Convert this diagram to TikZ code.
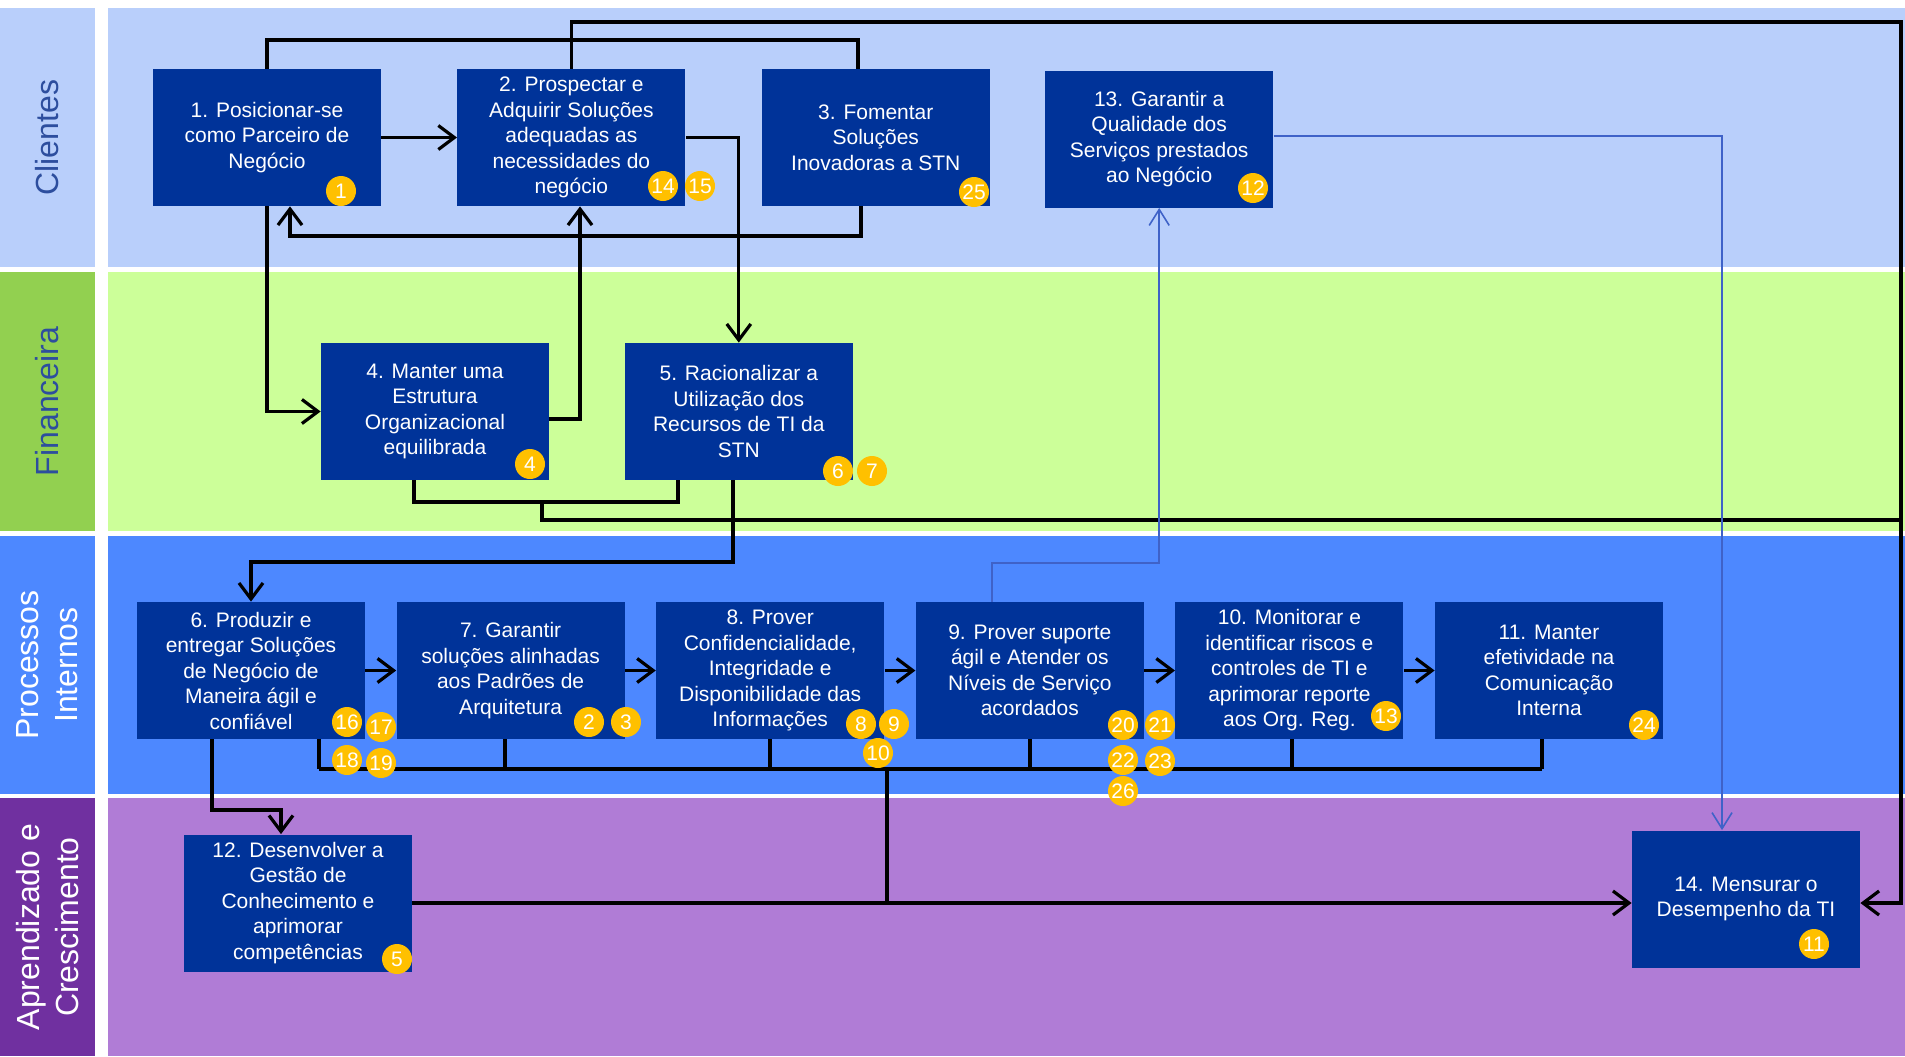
\documentclass[tikz,border=0pt]{standalone}
\usepackage{fontspec}
\setmainfont{Liberation Sans}
\usepackage{tikz}
\usetikzlibrary{positioning,arrows.meta}
\usetikzlibrary{calc}

\definecolor{laneC}{HTML}{B9CFFB}
\definecolor{laneF}{HTML}{CCFF99}
\definecolor{labF}{HTML}{92D050}
\definecolor{laneP}{HTML}{4D88FF}
\definecolor{laneA}{HTML}{B07CD6}
\definecolor{labA}{HTML}{7030A0}
\definecolor{objblue}{HTML}{003399}
\definecolor{gold}{HTML}{FFC000}
\definecolor{labtxt}{HTML}{2D4E9E}
\definecolor{linkblue}{HTML}{3F62C8}

\tikzset{
  obj/.style={fill=objblue, text=white, minimum width=114pt, minimum height=68.5pt,
    inner sep=0pt, align=center, font=\fontsize{10.5}{12.75}\selectfont},
  badge/.style={circle, fill=gold, text=white, minimum size=15pt, inner sep=0pt,
    font=\fontsize{10.5}{10.5}\selectfont},
  lane/.style={rotate=90, align=center, font=\fontsize{16}{19.5}\selectfont},
  flow/.style={line width=1.6pt, draw=black, -{Straight Barb[length=8pt,width=12pt]}},
  bar/.style={line width=1.6pt, draw=black},
  link/.style={line width=0.8pt, draw=linkblue, -{Straight Barb[length=8pt,width=10pt]}}
}

\begin{document}
\begin{tikzpicture}[x=0.5pt, y=-0.5pt, node distance=15.4pt]
    \useasboundingbox (0,0) rectangle (1905,1056);

    % lanes
    \fill[laneC] (0,8) rectangle (95,267);
    \fill[laneC] (108,8) rectangle (1905,267);
    \fill[labF] (0,272) rectangle (95,531);
    \fill[laneF] (108,272) rectangle (1905,531);
    \fill[laneP] (0,536) rectangle (95,794);
    \fill[laneP] (108,536) rectangle (1905,794);
    \fill[labA] (0,798) rectangle (95,1056);
    \fill[laneA] (108,798) rectangle (1905,1056);

    \node[lane, text=labtxt] (lc) at (47.5,137.5) {Clientes};
    \node[lane, text=labtxt] (lf) at (47.5,401.5) {Financeira};
    \node[lane, text=white] (lp) at (47.5,665) {Processos\\Internos};
    \node[lane, text=white] (la) at (47.5,927) {Aprendizado e\\Crescimento};

    % objectives
    \node[obj] (o1) at (267,137.5) {1. Posicionar-se\\como Parceiro de\\Negócio};
    \node[obj, right=37.8pt of o1] (o2) {2. Prospectar e\\Adquirir Soluções\\adequadas as\\necessidades do\\negócio};
    \node[obj, right=37.8pt of o2] (o3) {3. Fomentar\\Soluções\\Inovadoras a STN};
    \node[obj, right=27.3pt of o3, yshift=-0.75pt] (o13) {13. Garantir a\\Qualidade dos\\Serviços prestados\\ao Negócio};

    \node[obj] (o4) at (435,411.5) {4. Manter uma\\Estrutura\\Organizacional\\equilibrada};
    \node[obj, right=37.5pt of o4] (o5) {5. Racionalizar a\\Utilização dos\\Recursos de TI da\\STN};

    \node[obj] (o6) at (251,670.5) {6. Produzir e\\entregar Soluções\\de Negócio de\\Maneira ágil e\\confiável};
    \node[obj, right=of o6] (o7) {7. Garantir\\soluções alinhadas\\aos Padrões de\\Arquitetura};
    \node[obj, right=of o7] (o8) {8. Prover\\Confidencialidade,\\Integridade e\\Disponibilidade das\\Informações};
    \node[obj, right=of o8] (o9) {9. Prover suporte\\ágil e Atender os\\Níveis de Serviço\\acordados};
    \node[obj, right=of o9] (o10) {10. Monitorar e\\identificar riscos e\\controles de TI e\\aprimorar reporte\\aos Org. Reg.};
    \node[obj, right=of o10] (o11) {11. Manter\\efetividade na\\Comunicação\\Interna};

    \node[obj] (o12) at (298,903) {12. Desenvolver a\\Gestão de\\Conhecimento e\\aprimorar\\competências};
    \node[obj] (o14) at (1746,899) {14. Mensurar o\\Desempenho da TI};

    % bends
    \coordinate (k1) at (858,40);
    \coordinate (k2) at (861,236);
    \coordinate (k3) at (290,236);
    \coordinate (k4) at (1901,22);
    \coordinate (k5) at (1901,903);
    \coordinate (k6) at (414,502);
    \coordinate (k7) at (678,502);
    \coordinate (k8) at (542,502);
    \coordinate (k9) at (1901,520);
    \coordinate (k11) at (580,419);
    \coordinate (k13) at (733,562);
    \coordinate (bl) at (319,769);
    \coordinate (br) at (1542,769);
    \coordinate (k15) at (887,769);
    \coordinate (k16) at (212,810);
    \coordinate (k17) at (281,810);
    \coordinate (k18) at (992,563);
    \coordinate (k19) at (1722,136);

    \draw[flow] (o1.east) -- (o2.west);
    \draw[bar]  (o1.north) |- (k1) -- (k1 |- o3.north);
    \draw[flow] (o3.south -| k2) -- (k2) -- (k3) -- (k3 |- o1.south);
    \draw[flow] (o2.north) |- (k4) -- (k5) -- (k5 -| o14.east);
    \draw[flow] (o1.south) |- (o4.west);
    \draw[flow] (o4.east |- k11) -- (k11) -- (k11 |- o2.south);
    \draw[flow] (o2.east) -| (o5.north);

    \draw[bar]  (o4.south -| k6) -- (k6) -- (k7) -- (k7 |- o5.south);
    \draw[bar]  (k8) |- (k9);
    \draw[flow] (o5.south -| k13) -- (k13) -| (o6.north);

    \foreach \a/\b in {6/7,7/8,8/9,9/10,10/11}
      \draw[flow] (o\a.east) -- (o\b.west);

    \draw[bar] (bl) -- (br);
    \foreach \n/\x in {6/319,7/505,8/770,9/1030,10/1292,11/1542}
      \draw[bar] (o\n.south -| \x,0) -- (bl -| \x,0);
    \draw[bar]  (k15) -- (k15 |- o12.east);
    \draw[flow] (o12.east) -- (o12.east -| o14.west);
    \draw[flow] (o6.south -| k16) -- (k16) -- (k17) -- (k17 |- o12.north);

    \draw[link] (o9.north -| k18) -- (k18) -| (o13.south);
    \draw[link] (o13.east |- k19) -- (k19) -- (k19 |- o14.north);

    % badges
    \foreach \t/\x/\y in {1/341/191, 14/663/186, 15/700/186, 25/974/192, 12/1253/188,
        4/530/464, 6/838/471, 7/872/471, 16/347/722, 17/381/727, 18/347/760, 19/381/763,
        2/589/722, 3/626/722, 8/861/724, 9/894/724, 10/878/753, 20/1123/725, 21/1160/725,
        22/1123/760, 23/1160/761, 26/1123/791, 13/1386/716, 24/1644/725, 5/397/959, 11/1814/944}
      \node[badge] (n\t) at (\x,\y) {\t};
\end{tikzpicture}
\end{document}
